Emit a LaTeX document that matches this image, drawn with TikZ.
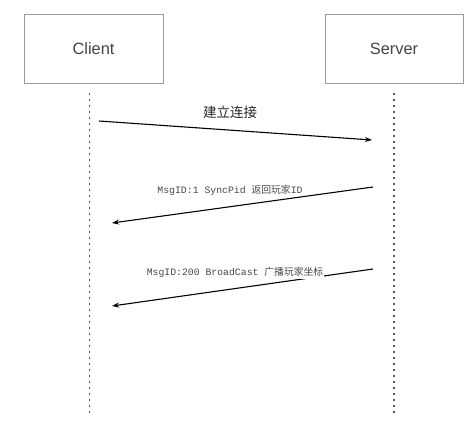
\documentclass[tikz,border=0pt]{standalone}
\usepackage{fontspec}
\setmainfont{Liberation Sans}
\newfontfamily\cjk{Noto Sans CJK SC}
\newfontfamily\monofont{Liberation Mono}
\usetikzlibrary{arrows.meta}
\definecolor{boxline}{HTML}{9A9A9A}
\definecolor{boxtext}{HTML}{444444}
\definecolor{lbltext}{HTML}{484848}
\definecolor{lifeline}{HTML}{555555}
\begin{document}
\begin{tikzpicture}[x=1pt,y=-1pt,
  actor/.style={draw=boxline,line width=0.9pt,minimum width=139pt,minimum height=69pt,inner sep=0pt,text=boxtext,font=\fontsize{16.4}{18}\selectfont},
  life/.style={draw=lifeline,line width=1.5pt,dash pattern=on 1.5pt off 4.5pt},
  msg/.style={draw=black,line width=1.1pt,-{Stealth[length=7pt,width=5pt]}},
  monolbl/.style={text=lbltext,font=\monofont\fontsize{9.8}{11}\selectfont,inner sep=1pt},
  cjklbl/.style={text=black!85,font=\cjk\fontsize{13.5}{15}\selectfont,inner sep=1pt}]
\useasboundingbox (0,0) rectangle (476,423);
\node[actor] (client) at (93.5,48.5) {Client};
\node[actor,minimum width=138pt] (server) at (394,48.5) {Server};
\coordinate (ct) at (89.5,93);
\coordinate (cb) at (89.5,416);
\coordinate (st) at (394,93);
\coordinate (sb) at (394,416);
\draw[life] (ct) -- (cb);
\draw[life] (st) -- (sb);
\coordinate (a1s) at (99,121);
\coordinate (a1e) at (372,140);
\coordinate (a2s) at (373,187);
\coordinate (a2e) at (112,223);
\coordinate (a3s) at (373,269);
\coordinate (a3e) at (112,306);
\draw[msg] (a1s) -- (a1e);
\draw[msg] (a2s) -- (a2e);
\draw[msg] (a3s) -- (a3e);
\node[cjklbl] (l1) at (230,112) {建立连接};
\node[monolbl] (l2) at (230,190.5) {MsgID:1 SyncPid {\cjk 返回玩家}ID};
\node[monolbl,fill=white] (l3) at (235,272.5) {MsgID:200 BroadCast {\cjk 广播玩家坐标}};
\end{tikzpicture}
\end{document}
